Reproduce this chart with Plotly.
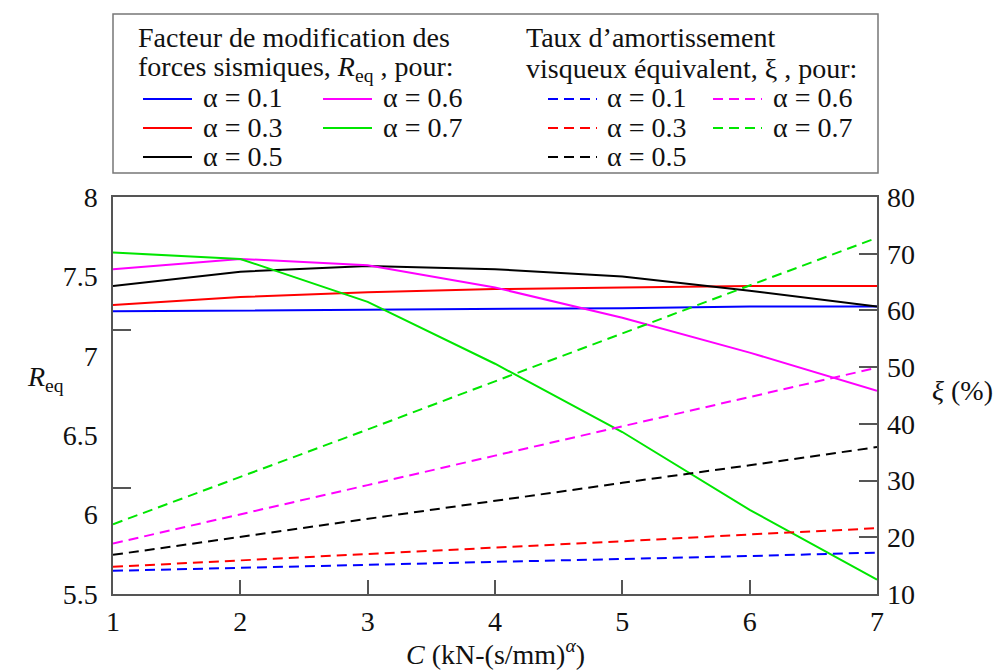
import plotly.graph_objects as go

# ---------------- data ----------------
C = [1, 2, 3, 4, 5, 6, 7]
alphas = ["0.1", "0.3", "0.5", "0.6", "0.7"]
colors = ["#0000ff", "#ff0000", "#000000", "#ff00ff", "#00e600"]

R_01 = [7.28, 7.285, 7.29, 7.295, 7.30, 7.31, 7.31]
R_03 = [7.32, 7.37, 7.40, 7.42, 7.43, 7.44, 7.44]
R_05 = [7.44, 7.53, 7.565, 7.545, 7.50, 7.41, 7.31]
R_06 = [7.545, 7.61, 7.57, 7.43, 7.24, 7.02, 6.78]
R_07 = [7.65, 7.61, 7.34, 6.95, 6.52, 6.03, 5.59]

xi_01 = [14.1, 14.6, 15.1, 15.6, 16.2, 16.7, 17.3]
xi_03 = [14.8, 15.9, 17.1, 18.2, 19.3, 20.5, 21.6]
xi_05 = [16.9, 20.1, 23.2, 26.4, 29.6, 32.7, 35.9]
xi_06 = [18.9, 24.0, 29.2, 34.4, 39.6, 44.8, 49.9]
xi_07 = [22.3, 30.6, 39.0, 47.5, 56.0, 64.4, 72.8]

R_series = [R_01, R_03, R_05, R_06, R_07]
xi_series = [xi_01, xi_03, xi_05, xi_06, xi_07]

left_ticks = [5.5, 6, 6.5, 7, 7.5, 8]
left_minor_ticks = [6.17, 7.16]
right_ticks = [10, 20, 30, 40, 50, 60, 70, 80]

FONT = "Liberation Serif"
FS = 28
DASH = "10px,6px"

# plot area in pixels
L, R_, T, B = 113, 877, 197, 594
W, H = 1000, 671


def px_x(x):
    return (x - L) / (R_ - L)


def px_y(y):
    return (B - y) / (B - T)


fig = go.Figure()

for a, col, ys in zip(alphas, colors, R_series):
    fig.add_trace(go.Scatter(x=C, y=ys, mode="lines", yaxis="y",
                             line=dict(color=col, width=2),
                             name="α = " + a, showlegend=False))
for a, col, ys in zip(alphas, colors, xi_series):
    fig.add_trace(go.Scatter(x=C, y=ys, mode="lines", yaxis="y2",
                             line=dict(color=col, width=2, dash=DASH),
                             name="α = " + a, showlegend=False))

# invisible trace to activate the extra tick axis
fig.add_trace(go.Scatter(x=[C[0]], y=[left_ticks[0]], yaxis="y3", mode="markers",
                         marker=dict(opacity=0), showlegend=False, hoverinfo="skip"))

axis_col = "#555555"
fig.update_layout(
    width=W, height=H,
    margin=dict(l=L, r=W - R_, t=T, b=H - B),
    paper_bgcolor="white", plot_bgcolor="white",
    font=dict(family=FONT, size=FS, color="#111111"),
    xaxis=dict(range=[1, 7], tickvals=C, ticks="inside", ticklen=14,
               tickcolor=axis_col, tickwidth=1.5,
               showline=True, linecolor=axis_col, linewidth=1.5, mirror=True,
               showgrid=False, zeroline=False, ticklabelstandoff=2,
               tickfont=dict(family=FONT, size=FS)),
    yaxis=dict(range=[5.5, 8], tickvals=left_ticks, ticktext=[f"{v:g}" for v in left_ticks],
               ticks="", showline=True, linecolor=axis_col, linewidth=1.5, mirror=True,
               showgrid=False, zeroline=False, ticklabelstandoff=8,
               tickfont=dict(family=FONT, size=FS)),
    yaxis2=dict(range=[10, 80], tickvals=right_ticks, overlaying="y", side="right",
                ticks="inside", ticklen=18, tickcolor=axis_col, tickwidth=1.5,
                showline=False, showgrid=False, zeroline=False, ticklabelstandoff=9,
                tickfont=dict(family=FONT, size=FS)),
    yaxis3=dict(range=[5.5, 8], tickvals=left_minor_ticks, overlaying="y", side="left",
                ticks="inside", ticklen=18, tickcolor=axis_col, tickwidth=1.5,
                showticklabels=False, showline=False, showgrid=False, zeroline=False),
    showlegend=False,
)

# ---------------- legend box (manual) ----------------
shapes = [dict(type="rect", xref="paper", yref="paper",
               x0=px_x(113), x1=px_x(878), y0=px_y(173), y1=px_y(14),
               line=dict(color="#777777", width=1.5), fillcolor="rgba(0,0,0,0)")]
ann = []


def text(x, y, s, anchor="left", size=FS):
    ann.append(dict(xref="paper", yref="paper", x=px_x(x), y=px_y(y), text=s,
                    showarrow=False, xanchor=anchor, yanchor="middle",
                    font=dict(family=FONT, size=size, color="#111111")))


text(136, 38, "Facteur de modification des")
text(136, 68, "forces sismiques, <i>R</i><sub>eq</sub> , pour:")
text(524, 38, "Taux d’amortissement")
text(524, 68, "visqueux équivalent, ξ , pour:")

rows = [99, 128, 157]
slots = {"0.1": (0, 0), "0.3": (1, 0), "0.5": (2, 0), "0.6": (0, 1), "0.7": (1, 1)}
left_cols = [(143, 192, 201), (323, 372, 381)]
right_cols = [(548, 597, 605), (713, 762, 771)]

for a, col in zip(alphas, colors):
    r, c = slots[a]
    y = rows[r]
    x0, x1, xt = left_cols[c]
    shapes.append(dict(type="line", xref="paper", yref="paper",
                       x0=px_x(x0), x1=px_x(x1), y0=px_y(y), y1=px_y(y),
                       line=dict(color=col, width=2)))
    text(xt, y - 1, "α = " + a)
    x0, x1, xt = right_cols[c]
    shapes.append(dict(type="line", xref="paper", yref="paper",
                       x0=px_x(x0), x1=px_x(x1), y0=px_y(y), y1=px_y(y),
                       line=dict(color=col, width=2, dash=DASH)))
    text(xt, y - 1, "α = " + a)

# axis titles
text(45, 378, "<i>R</i><sub>eq</sub>", anchor="center")
text(962, 390, "<i>ξ</i> (%)", anchor="center")
text(495, 652, "<i>C</i> (kN-(s/mm)<sup><i>α</i></sup>)", anchor="center")

fig.update_layout(shapes=shapes, annotations=ann)

fig.write_html("out.html")
